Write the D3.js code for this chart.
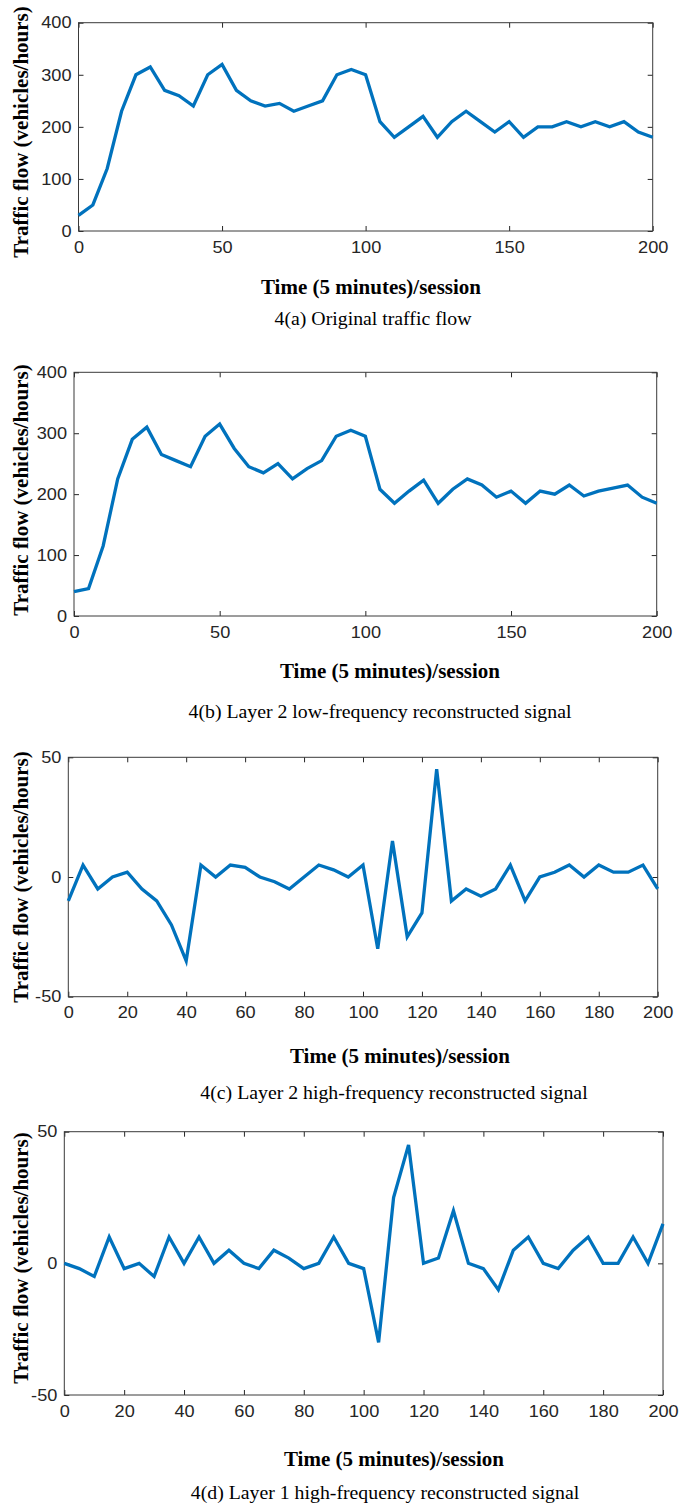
<!DOCTYPE html>
<html>
<head>
<meta charset="UTF-8">
<title>Traffic flow decomposition</title>
<script src="https://d3js.org/d3.v7.min.js"></script>
<style>
  body { margin: 0; background: #fff; }
  svg { display: block; }
  .tick text { font-family: "Liberation Sans", Arial, sans-serif; fill: #262626; }
  .axis-title { font-family: "Liberation Serif", "Times New Roman", serif; font-weight: bold; fill: #000; }
  .caption { font-family: "Liberation Serif", "Times New Roman", serif; fill: #000; }
</style>
</head>
<body>
<div id="chart"></div>
<script>
// time steps (5 minutes per session)
var timeSteps = [0, 5, 10, 15, 20, 25, 30, 35, 40, 45, 50, 55, 60, 65, 70, 75, 80, 85, 90, 95, 100,
  105, 110, 115, 120, 125, 130, 135, 140, 145, 150, 155, 160, 165, 170, 175, 180, 185, 190, 195, 200];

// 4(a) original traffic flow
var originalFlow = [30, 50, 120, 230, 300, 315, 270, 260, 240, 300, 320, 270, 250, 240, 245, 230, 240, 250, 300, 310, 300,
  210, 180, 200, 220, 180, 210, 230, 210, 190, 210, 180, 200, 200, 210, 200, 210, 200, 210, 190, 180];

// 4(b) layer 2 low-frequency
var lowFreq2 = [40, 45, 115, 225, 290, 310, 265, 255, 245, 295, 315, 275, 245, 235, 250, 225, 242, 255, 295, 305, 295,
  208, 185, 205, 223, 185, 208, 225, 215, 195, 205, 185, 205, 200, 215, 197, 205, 210, 215, 195, 185];

// 4(c) layer 2 high-frequency
var highFreq2 = [-10, 5, -5, 0, 2, -5, -10, -20, -35, 5, 0, 5, 4, 0, -2, -5, 0, 5, 3, 0, 5,
  -30, 15, -25, -15, 45, -10, -5, -8, -5, 5, -10, 0, 2, 5, 0, 5, 2, 2, 5, -5];

// 4(d) layer 1 high-frequency
var highFreq1 = [0, -2, -5, 10, -2, 0, -5, 10, 0, 10, 0, 5, 0, -2, 5, 2, -2, 0, 10, 0, -2,
  -30, 25, 45, 0, 2, 20, 0, -2, -10, 5, 10, 0, -2, 5, 10, 0, 0, 10, 0, 15];

var xTicksCoarse = [0, 50, 100, 150, 200];
var xTicksFine = [0, 20, 40, 60, 80, 100, 120, 140, 160, 180, 200];
var yTicksFlow = [0, 100, 200, 300, 400];
var yTicksSignal = [-50, 0, 50];

var yLabel = "Traffic flow (vehicles/hours)";
var xLabel = "Time (5 minutes)/session";

var panels = [
  { values: originalFlow, yDomain: [0, 400], yTicks: yTicksFlow, xTicks: xTicksCoarse,
    caption: "4(a) Original traffic flow",
    box: { left: 78.5, right: 652.7, top: 22.7, bottom: 231 },
    yLabelY: 132, titleX: 371, titleY: 294, captionX: 373, captionY: 325 },
  { values: lowFreq2, yDomain: [0, 400], yTicks: yTicksFlow, xTicks: xTicksCoarse,
    caption: "4(b) Layer 2 low-frequency reconstructed signal",
    box: { left: 74, right: 656.7, top: 372.3, bottom: 616 },
    yLabelY: 490, titleX: 390, titleY: 678, captionX: 380, captionY: 718 },
  { values: highFreq2, yDomain: [-50, 50], yTicks: yTicksSignal, xTicks: xTicksFine,
    caption: "4(c) Layer 2 high-frequency reconstructed signal",
    box: { left: 68.3, right: 657.7, top: 757.3, bottom: 996.7 },
    yLabelY: 877, titleX: 400, titleY: 1063, captionX: 394, captionY: 1099 },
  { values: highFreq1, yDomain: [-50, 50], yTicks: yTicksSignal, xTicks: xTicksFine,
    caption: "4(d) Layer 1 high-frequency reconstructed signal",
    box: { left: 64.3, right: 663, top: 1131.7, bottom: 1395 },
    yLabelY: 1258, titleX: 394, titleY: 1466, captionX: 385, captionY: 1499 }
];

var svg = d3.select("#chart")
  .append("svg")
  .attr("width", 691)
  .attr("height", 1504);

svg.append("rect").attr("width", 691).attr("height", 1504).attr("fill", "#fff");

var stretch = 1.1;   // the figure is a bit wider than tall
var plain = function (d) { return String(d); };   // keep the plain hyphen for negatives

panels.forEach(function (p) {
  var b = p.box;
  var x = d3.scaleLinear().domain([0, 200]).range([b.left, b.right]);
  var y = d3.scaleLinear().domain(p.yDomain).range([b.bottom, b.top]);

  var g = svg.append("g");

  // bottom axis with labels, top axis just ticks
  var bottom = g.append("g")
    .attr("transform", "translate(0," + b.bottom + ")")
    .call(d3.axisBottom(x).tickValues(p.xTicks).tickFormat(plain).tickSizeInner(-5).tickSizeOuter(0).tickPadding(10));
  bottom.selectAll("text")
    .style("font-size", "16.5px")
    .attr("transform", "scale(" + stretch + ",1)");

  g.append("g")
    .attr("transform", "translate(0," + b.top + ")")
    .call(d3.axisTop(x).tickValues(p.xTicks).tickSizeInner(-5).tickSizeOuter(0).tickFormat(""));

  var left = g.append("g")
    .attr("transform", "translate(" + b.left + ",0)")
    .call(d3.axisLeft(y).tickValues(p.yTicks).tickFormat(plain).tickSizeInner(-5).tickSizeOuter(0).tickPadding(7));
  left.selectAll("text")
    .style("font-size", "16.5px")
    .attr("x", -7 / stretch)
    .attr("transform", "scale(" + stretch + ",1)");

  g.append("g")
    .attr("transform", "translate(" + b.right + ",0)")
    .call(d3.axisRight(y).tickValues(p.yTicks).tickSizeInner(-5).tickSizeOuter(0).tickFormat(""));

  g.selectAll(".domain").remove();
  g.selectAll(".tick line").attr("stroke", "#262626");

  g.append("rect")
    .attr("x", b.left)
    .attr("y", b.top)
    .attr("width", b.right - b.left)
    .attr("height", b.bottom - b.top)
    .attr("fill", "none")
    .attr("stroke", "#3a3a3a")
    .attr("stroke-width", 1);

  // the series
  var line = d3.line()
    .x(function (d, i) { return x(timeSteps[i]); })
    .y(function (d) { return y(d); });

  g.append("path")
    .datum(p.values)
    .attr("fill", "none")
    .attr("stroke", "#0072BD")
    .attr("stroke-width", 3.3)
    .attr("stroke-linejoin", "miter")
    .attr("d", line);

  // y title
  g.append("text")
    .attr("class", "axis-title")
    .attr("transform", "translate(28," + p.yLabelY + ") rotate(-90)")
    .attr("text-anchor", "middle")
    .style("font-size", "21px")
    .text(yLabel);

  // x title
  g.append("text")
    .attr("class", "axis-title")
    .attr("transform", "translate(" + p.titleX + "," + p.titleY + ") scale(1.05,1)")
    .attr("text-anchor", "middle")
    .style("font-size", "20px")
    .text(xLabel);

  // caption
  g.append("text")
    .attr("class", "caption")
    .attr("transform", "translate(" + p.captionX + "," + p.captionY + ") scale(1.1,1)")
    .attr("text-anchor", "middle")
    .style("font-size", "18px")
    .text(p.caption);
});
</script>
</body>
</html>
